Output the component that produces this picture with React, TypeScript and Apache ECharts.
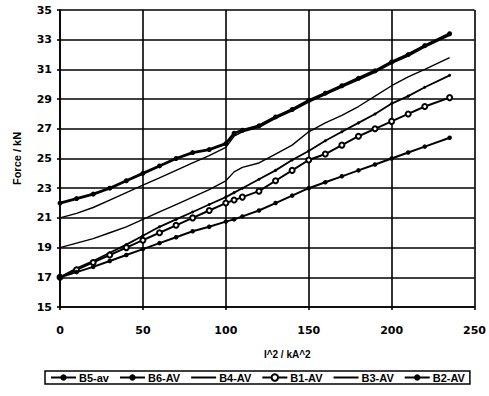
import React, { useEffect, useRef } from "react";
import * as echarts from "echarts";

const xs = [0, 10, 20, 30, 40, 50, 60, 70, 80, 90, 100, 105, 110, 120, 130, 140, 150, 160, 170, 180, 190, 200, 210, 220, 235];

const seriesNames = ["B5-av", "B6-AV", "B4-AV", "B1-AV", "B3-AV", "B2-AV"];

const b5av = [17.0, 17.6, 18.1, 18.65, 19.2, 19.8, 20.4, 20.9, 21.4, 21.9, 22.4, 22.7, 23.0, 23.6, 24.2, 24.9, 25.5, 26.2, 26.8, 27.4, 28.0, 28.7, 29.2, 29.8, 30.6];
const b6av = [22.0, 22.3, 22.6, 23.0, 23.5, 24.0, 24.5, 25.0, 25.4, 25.6, 26.0, 26.7, 26.9, 27.2, 27.8, 28.3, 28.9, 29.4, 29.9, 30.4, 30.9, 31.5, 32.0, 32.6, 33.4];
const b4av = [19.0, 19.3, 19.6, 20.0, 20.4, 20.9, 21.4, 21.9, 22.4, 22.9, 23.5, 24.1, 24.4, 24.7, 25.3, 25.9, 26.8, 27.4, 27.9, 28.5, 29.2, 29.9, 30.5, 31.0, 31.8];
const b1av = [17.0, 17.5, 18.0, 18.5, 19.0, 19.5, 20.0, 20.5, 21.0, 21.5, 22.0, 22.2, 22.4, 22.8, 23.5, 24.2, 24.9, 25.3, 25.9, 26.5, 27.0, 27.5, 28.0, 28.5, 29.1];
const b3av = [21.0, 21.3, 21.7, 22.2, 22.7, 23.2, 23.7, 24.2, 24.7, 25.2, 25.75, 26.5, 26.8, 27.1, 27.7, 28.2, 28.8, 29.3, 29.8, 30.3, 30.8, 31.4, 31.9, 32.5, 33.3];
const b2av = [17.0, 17.35, 17.7, 18.1, 18.5, 18.9, 19.3, 19.7, 20.1, 20.4, 20.75, 20.9, 21.1, 21.5, 22.0, 22.5, 23.0, 23.4, 23.8, 24.2, 24.6, 25.0, 25.4, 25.8, 26.4];

const noMarker = ["B4-AV", "B3-AV"];

const yTicks = { min: 15, max: 35, interval: 2 };
const xTicks = { min: 0, max: 250, interval: 50 };

const pair = (vals: number[]) => xs.map((x, i) => [x, vals[i]]);

export default function App() {
  const ref = useRef<HTMLDivElement>(null);
  useEffect(() => {
    if (!ref.current) return;
    const chart = echarts.init(ref.current, undefined, { renderer: "svg" });
    const black = "#000";
    const tickFont = { color: black, fontFamily: "DejaVu Sans", fontWeight: "bold" as const, fontSize: 11 };
    const mk = (name: string, vals: number[], lw: number, symbol: string, size: number) => ({
      name,
      type: "line",
      data: pair(vals),
      showSymbol: symbol !== "none",
      symbol,
      symbolSize: size,
      lineStyle: { color: black, width: lw },
      itemStyle: { color: black, borderColor: black, borderWidth: symbol === "emptyCircle" ? 1.4 : 0 },
      emphasis: { disabled: true },
    });
    chart.setOption({
      animation: false,
      backgroundColor: "#fff",
      grid: { left: 60, right: 12, top: 10, bottom: 89 },
      legend: {
        data: seriesNames.map((n) =>
          noMarker.includes(n) ? { name: n, itemStyle: { opacity: 0 } } : { name: n }
        ),
        left: 45,
        top: 371,
        padding: [1, 5],
        itemWidth: 25,
        itemHeight: 8,
        itemGap: 10,
        borderColor: black,
        borderWidth: 1.5,
        textStyle: { color: black, fontFamily: "Liberation Sans", fontWeight: "bold", fontSize: 11, padding: [0, 0, 0, -2] },
      },
      xAxis: {
        type: "value",
        min: xTicks.min,
        max: xTicks.max,
        interval: xTicks.interval,
        name: "I^2 / kA^2",
        nameLocation: "middle",
        nameGap: 42,
        nameTextStyle: { color: black, fontFamily: "Liberation Sans", fontWeight: "bold", fontSize: 10, padding: [0, 0, 0, 40] },
        axisLine: { show: true, lineStyle: { color: black, width: 1.6 } },
        axisTick: { show: true, length: 3, lineStyle: { color: black, width: 1.6 } },
        axisLabel: { ...tickFont, margin: 18 },
        splitLine: { show: true, lineStyle: { color: black, width: 1.6 } },
      },
      yAxis: {
        type: "value",
        min: yTicks.min,
        max: yTicks.max,
        interval: yTicks.interval,
        name: "Force / kN",
        nameLocation: "middle",
        nameGap: 38,
        nameTextStyle: { color: black, fontFamily: "Liberation Sans", fontWeight: "bold", fontSize: 11 },
        axisLine: { show: true, lineStyle: { color: black, width: 1.6 } },
        axisTick: { show: true, length: 3, lineStyle: { color: black, width: 1.6 } },
        axisLabel: { ...tickFont, margin: 8 },
        splitLine: { show: true, lineStyle: { color: black, width: 1.6 } },
      },
      series: [
        mk("B5-av", b5av, 1.8, "circle", 3),
        mk("B6-AV", b6av, 2.8, "circle", 5),
        mk("B4-AV", b4av, 1.4, "none", 0),
        mk("B1-AV", b1av, 2, "emptyCircle", 5),
        mk("B3-AV", b3av, 1.4, "none", 0),
        mk("B2-AV", b2av, 2, "circle", 4.5),
      ],
    });
    return () => chart.dispose();
  }, []);
  return (
    <div
      ref={ref}
      style={{ position: "fixed", left: 0, top: 0, width: 489, height: 396, background: "#fff" }}
    />
  );
}
